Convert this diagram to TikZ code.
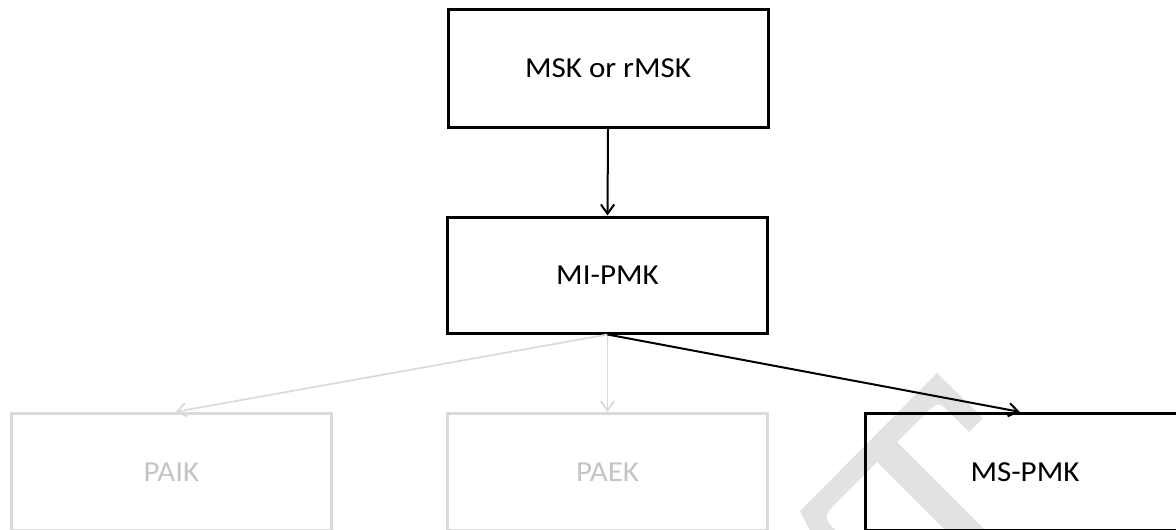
\documentclass[tikz,border=0pt]{standalone}
\usepackage{fontspec}
\usepackage{graphicx}
\setmainfont{Carlito}
\usetikzlibrary{arrows.meta}

\definecolor{boxgrey}{RGB}{218,218,218}
\definecolor{textgrey}{RGB}{196,196,196}
\definecolor{markgrey}{RGB}{226,226,226}

\newcommand{\lbl}[1]{\scalebox{1.07}[1]{#1}}

\tikzset{
  stepbox/.style={draw=black, line width=2.25pt, minimum width=240pt,
    minimum height=88pt, inner sep=0pt,
    font=\fontsize{21.75}{26}\selectfont},
  fadedbox/.style={stepbox, draw=boxgrey, text=textgrey},
  link/.style={draw=black, line width=1.5pt,
    -{Straight Barb[length=7pt,width=10pt]}},
  fadedlink/.style={link, draw=boxgrey, line width=1.3pt}
}

\begin{document}
\begin{tikzpicture}[x=0.75pt,y=-0.75pt]
  \path[use as bounding box] (0,0) rectangle (1176,529);
  \clip (0,0) rectangle (1176,529);

  % background mark
  \fill[markgrey] (800,511) -- (937,373) -- (983,418) -- (969,432)
    -- (949,412) .. controls (938,401) .. (919.5,419.5)
    -- (897,442) -- (990.5,535.5) -- (950,535)
    -- (877,462) -- (842,497)
    .. controls (822,517) .. (838,533)
    -- (840,535) -- (812,535) -- cycle;

  % boxes
  \node[stepbox, minimum height=88.5pt] (msk) at (608,68) {\lbl{MSK or rMSK}};
  \node[stepbox, minimum height=87pt] (mipmk) at (607.5,275) {\lbl{MI-PMK}};
  \node[fadedbox] (paik) at (171.5,472) {\lbl{PAIK}};
  \node[fadedbox] (paek) at (607.5,472) {\lbl{PAEK}};
  \node[stepbox] (mspmk) at (1025,472) {\lbl{MS-PMK}};

  % connectors
  \draw[link] (msk.south) -- (mipmk.north);
  \draw[fadedlink] (mipmk.south) -- ([xshift=3pt]paik.north);
  \draw[fadedlink] (mipmk.south) -- (paek.north);
  \draw[link] (mipmk.south) -- ([xshift=-4pt]mspmk.north);
\end{tikzpicture}
\end{document}
